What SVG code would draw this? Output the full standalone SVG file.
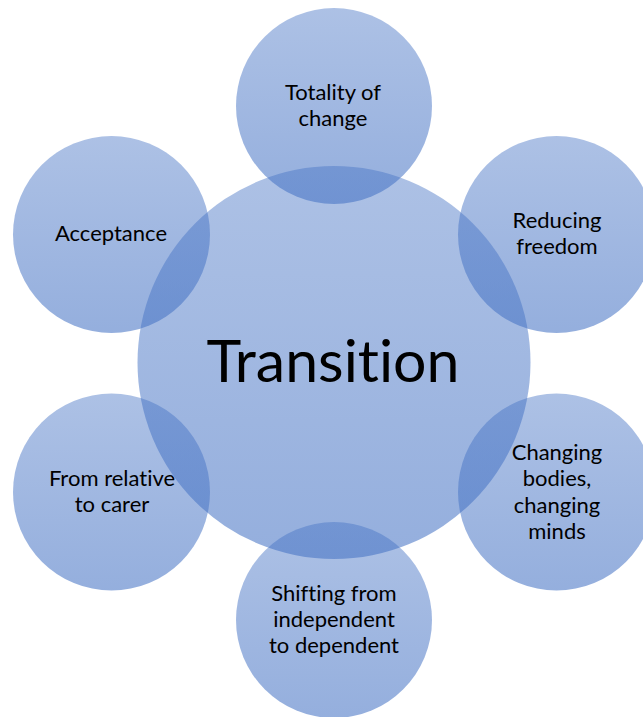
<svg xmlns="http://www.w3.org/2000/svg" width="643" height="717" viewBox="0 0 643 717">
<defs>
<linearGradient id="g" x1="0" y1="0" x2="0" y2="1">
<stop offset="0" stop-color="#4472C4" stop-opacity="0.44"/>
<stop offset="1" stop-color="#4472C4" stop-opacity="0.57"/>
</linearGradient>
</defs>
<style>
.c{fill:url(#g);stroke:none}
.t,.big{font-family:Lato,"Liberation Sans",sans-serif;fill:#000;text-anchor:middle;font-variant-ligatures:none;font-feature-settings:"liga" 0,"clig" 0}
.t{font-size:22px}
.big{font-size:59px}
</style>
<rect width="643" height="717" fill="#fff"/>
<g id="connectors"></g>
<g id="center">
<circle class="c" cx="334" cy="362.5" r="196.5"/>
<text class="big" x="333" y="382">Transition</text>
</g>
<g id="n-top">
<circle class="c" cx="334" cy="106" r="98"/>
<text class="t" x="333" y="100">Totality of</text>
<text class="t" x="333" y="126">change</text>
</g>
<g id="n-upper-right">
<circle class="c" cx="556.5" cy="234.5" r="98.5"/>
<text class="t" x="557" y="228">Reducing</text>
<text class="t" x="557" y="254">freedom</text>
</g>
<g id="n-lower-right">
<circle class="c" cx="556.5" cy="492" r="98.5"/>
<text class="t" x="557" y="460">Changing</text>
<text class="t" x="557" y="486">bodies,</text>
<text class="t" x="557" y="513">changing</text>
<text class="t" x="557" y="539">minds</text>
</g>
<g id="n-bottom">
<circle class="c" cx="334" cy="620" r="98"/>
<text class="t" x="334" y="601">Shifting from</text>
<text class="t" x="334" y="627">independent</text>
<text class="t" x="334" y="653">to dependent</text>
</g>
<g id="n-lower-left">
<circle class="c" cx="111.5" cy="492" r="98.5"/>
<text class="t" x="112" y="486">From relative</text>
<text class="t" x="112" y="512">to carer</text>
</g>
<g id="n-upper-left">
<circle class="c" cx="111.5" cy="234.5" r="98.5"/>
<text class="t" x="111" y="241">Acceptance</text>
</g>
</svg>
